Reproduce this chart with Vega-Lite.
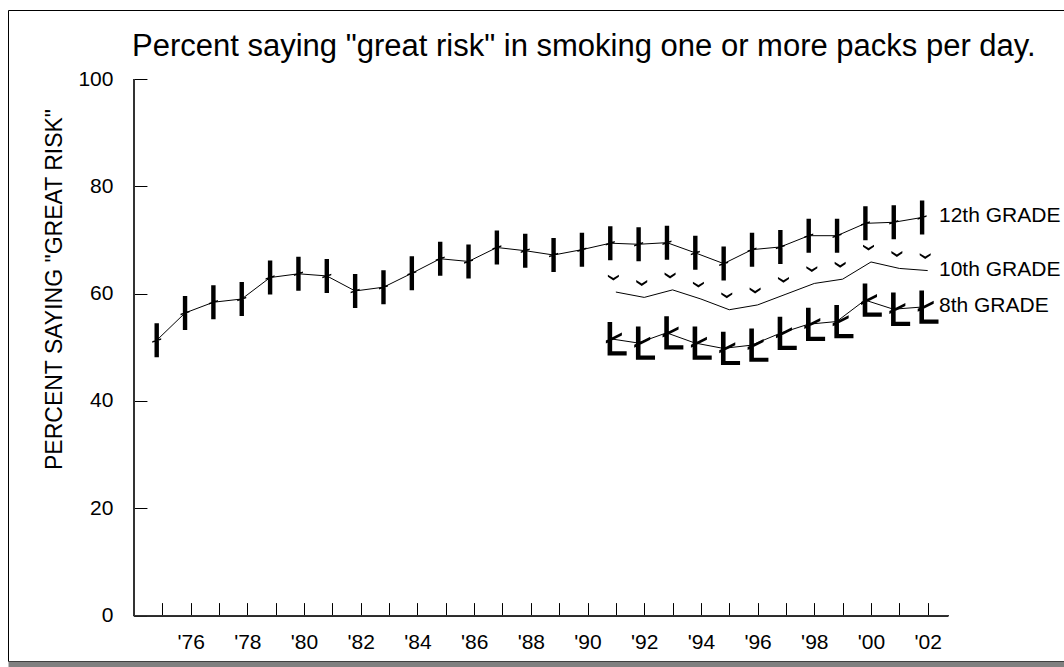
{
  "$schema": "https://vega.github.io/schema/vega-lite/v6.json",
  "width": 1056,
  "height": 651,
  "autosize": {"type": "none"},
  "padding": {"left": 8, "top": 10, "right": 0, "bottom": 6},
  "background": "white",
  "config": {
    "view": {"stroke": "black", "strokeWidth": 1, "fill": "white"},
    "font": "Liberation Sans",
    "axisY": {
      "orient": "left", "offset": -125.95,
      "tickSize": -13, "tickColor": "black", "tickWidth": 1,
      "domain": false, "grid": false,
      "labelFont": "Liberation Sans", "labelFontSize": 21, "labelColor": "black",
      "labelPadding": 34, "labelFlush": false, "labelOverlap": false,
      "titleFont": "Liberation Sans", "titleFontSize": 23, "titleFontWeight": "normal",
      "titleColor": "black", "titleAngle": -90, "titleAlign": "center",
      "titleBaseline": "alphabetic", "titleX": -72, "titleY": 279
    }
  },
  "title": {
    "text": "Percent saying \"great risk\" in smoking one or more packs per day.",
    "anchor": "start",
    "frame": "group",
    "font": "Liberation Sans",
    "fontSize": 31,
    "fontWeight": "normal",
    "color": "black",
    "baseline": "alphabetic",
    "offset": -77,
    "dx": 124
  },
  "data": {
    "values": [
      {"year": 1975, "grade": "12th GRADE", "pct": 51.3},
      {"year": 1976, "grade": "12th GRADE", "pct": 56.4},
      {"year": 1977, "grade": "12th GRADE", "pct": 58.4},
      {"year": 1978, "grade": "12th GRADE", "pct": 59.0},
      {"year": 1979, "grade": "12th GRADE", "pct": 63.0},
      {"year": 1980, "grade": "12th GRADE", "pct": 63.7},
      {"year": 1981, "grade": "12th GRADE", "pct": 63.3},
      {"year": 1982, "grade": "12th GRADE", "pct": 60.5},
      {"year": 1983, "grade": "12th GRADE", "pct": 61.2},
      {"year": 1984, "grade": "12th GRADE", "pct": 63.8},
      {"year": 1985, "grade": "12th GRADE", "pct": 66.5},
      {"year": 1986, "grade": "12th GRADE", "pct": 66.0},
      {"year": 1987, "grade": "12th GRADE", "pct": 68.6},
      {"year": 1988, "grade": "12th GRADE", "pct": 68.0},
      {"year": 1989, "grade": "12th GRADE", "pct": 67.2},
      {"year": 1990, "grade": "12th GRADE", "pct": 68.2},
      {"year": 1991, "grade": "12th GRADE", "pct": 69.4},
      {"year": 1992, "grade": "12th GRADE", "pct": 69.2},
      {"year": 1993, "grade": "12th GRADE", "pct": 69.5},
      {"year": 1994, "grade": "12th GRADE", "pct": 67.6},
      {"year": 1995, "grade": "12th GRADE", "pct": 65.6},
      {"year": 1996, "grade": "12th GRADE", "pct": 68.2},
      {"year": 1997, "grade": "12th GRADE", "pct": 68.7},
      {"year": 1998, "grade": "12th GRADE", "pct": 70.8},
      {"year": 1999, "grade": "12th GRADE", "pct": 70.8},
      {"year": 2000, "grade": "12th GRADE", "pct": 73.1},
      {"year": 2001, "grade": "12th GRADE", "pct": 73.3},
      {"year": 2002, "grade": "12th GRADE", "pct": 74.2},
      {"year": 1991, "grade": "10th GRADE", "pct": 60.3},
      {"year": 1992, "grade": "10th GRADE", "pct": 59.3},
      {"year": 1993, "grade": "10th GRADE", "pct": 60.7},
      {"year": 1994, "grade": "10th GRADE", "pct": 59.0},
      {"year": 1995, "grade": "10th GRADE", "pct": 57.0},
      {"year": 1996, "grade": "10th GRADE", "pct": 57.9},
      {"year": 1997, "grade": "10th GRADE", "pct": 59.9},
      {"year": 1998, "grade": "10th GRADE", "pct": 61.9},
      {"year": 1999, "grade": "10th GRADE", "pct": 62.7},
      {"year": 2000, "grade": "10th GRADE", "pct": 65.9},
      {"year": 2001, "grade": "10th GRADE", "pct": 64.7},
      {"year": 2002, "grade": "10th GRADE", "pct": 64.3},
      {"year": 1991, "grade": "8th GRADE", "pct": 51.6},
      {"year": 1992, "grade": "8th GRADE", "pct": 50.8},
      {"year": 1993, "grade": "8th GRADE", "pct": 52.7},
      {"year": 1994, "grade": "8th GRADE", "pct": 50.8},
      {"year": 1995, "grade": "8th GRADE", "pct": 49.8},
      {"year": 1996, "grade": "8th GRADE", "pct": 50.4},
      {"year": 1997, "grade": "8th GRADE", "pct": 52.6},
      {"year": 1998, "grade": "8th GRADE", "pct": 54.3},
      {"year": 1999, "grade": "8th GRADE", "pct": 54.8},
      {"year": 2000, "grade": "8th GRADE", "pct": 58.8},
      {"year": 2001, "grade": "8th GRADE", "pct": 57.1},
      {"year": 2002, "grade": "8th GRADE", "pct": 57.5}
    ]
  },
  "layer": [
    {
      "transform": [{"filter": "datum.grade == '12th GRADE'"}],
      "mark": {"type": "line", "color": "black", "strokeWidth": 1, "xOffset": -5.6},
      "encoding": {
        "x": {
          "field": "year", "type": "quantitative",
          "scale": {"domain": [1969.557, 2006.808], "nice": false, "zero": false},
          "axis": {
            "orient": "bottom", "offset": -45.4,
            "values": [1975,1976,1977,1978,1979,1980,1981,1982,1983,1984,1985,1986,1987,1988,1989,1990,1991,1992,1993,1994,1995,1996,1997,1998,1999,2000,2001,2002],
            "tickSize": -13, "tickColor": "black", "tickWidth": 1,
            "domain": false, "grid": false,
            "labelExpr": "datum.value % 2 == 0 ? \"'\" + substring(toString(datum.value), 2, 4) : ''",
            "labelFont": "Liberation Sans", "labelFontSize": 21, "labelColor": "black",
            "labelPadding": 29, "labelFlush": false, "labelOverlap": false,
            "title": null
          }
        },
        "y": {
          "field": "pct", "type": "quantitative",
          "scale": {"domain": [-8.461, 112.86], "nice": false, "zero": false},
          "axis": {"title": "PERCENT SAYING \"GREAT RISK\"", "values": [0, 20, 40, 60, 80, 100]}
        }
      }
    },
    {
      "transform": [{"filter": "datum.grade == '10th GRADE'"}],
      "mark": {"type": "line", "color": "black", "strokeWidth": 1},
      "encoding": {
        "x": {
          "field": "year", "type": "quantitative",
          "scale": {"domain": [1969.557, 2006.808], "nice": false, "zero": false},
          "axis": {
            "orient": "bottom", "offset": 3,
            "domain": true, "domainColor": "#808080", "domainWidth": 6,
            "ticks": false, "labels": false, "grid": false, "title": null
          }
        },
        "y": {"field": "pct", "type": "quantitative", "scale": {"domain": [-8.461, 112.86], "nice": false, "zero": false}, "axis": {"title": "PERCENT SAYING \"GREAT RISK\"", "values": [0, 20, 40, 60, 80, 100]}}
      }
    },
    {
      "transform": [{"filter": "datum.grade == '8th GRADE'"}],
      "mark": {"type": "line", "color": "black", "strokeWidth": 1, "xOffset": -6},
      "encoding": {
        "x": {"field": "year", "type": "quantitative", "scale": {"domain": [1969.557, 2006.808], "nice": false, "zero": false}, "axis": null},
        "y": {"field": "pct", "type": "quantitative", "scale": {"domain": [-8.461, 112.86], "nice": false, "zero": false}, "axis": {"title": "PERCENT SAYING \"GREAT RISK\"", "values": [0, 20, 40, 60, 80, 100]}}
      }
    },
    {
      "transform": [{"filter": "datum.grade == '12th GRADE'"}],
      "mark": {
        "type": "point", "filled": true, "color": "black", "opacity": 1, "strokeWidth": 0,
        "size": 4, "xOffset": -5.6,
        "shape": "M-2.2,-17H2.2V17H-2.2Z M-4.5,0.8L4.5,-2.2L4.5,-0.7L-4.5,2.3Z"
      },
      "encoding": {
        "x": {"field": "year", "type": "quantitative", "scale": {"domain": [1969.557, 2006.808], "nice": false, "zero": false}, "axis": null},
        "y": {"field": "pct", "type": "quantitative", "scale": {"domain": [-8.461, 112.86], "nice": false, "zero": false}, "axis": {"title": "PERCENT SAYING \"GREAT RISK\"", "values": [0, 20, 40, 60, 80, 100]}}
      }
    },
    {
      "transform": [{"filter": "datum.grade == '10th GRADE'"}],
      "mark": {
        "type": "point", "filled": true, "color": "black", "opacity": 1, "strokeWidth": 0,
        "size": 4,
        "shape": "M-8,-17.3L-2.5,-14L3,-17.3L3,-15.2L-2.5,-11.5L-8,-15.2Z"
      },
      "encoding": {
        "x": {"field": "year", "type": "quantitative", "scale": {"domain": [1969.557, 2006.808], "nice": false, "zero": false}, "axis": null},
        "y": {"field": "pct", "type": "quantitative", "scale": {"domain": [-8.461, 112.86], "nice": false, "zero": false}, "axis": {"title": "PERCENT SAYING \"GREAT RISK\"", "values": [0, 20, 40, 60, 80, 100]}}
      }
    },
    {
      "transform": [{"filter": "datum.grade == '8th GRADE'"}],
      "mark": {
        "type": "point", "filled": true, "color": "black", "opacity": 1, "strokeWidth": 0,
        "size": 4, "xOffset": -6,
        "shape": "M-2.3,-16.6H2.3V12.5H16.8V16.7H-2.3Z M-4,1.8L12,-6.2L12,-3.2L-4,4.8Z"
      },
      "encoding": {
        "x": {"field": "year", "type": "quantitative", "scale": {"domain": [1969.557, 2006.808], "nice": false, "zero": false}, "axis": null},
        "y": {"field": "pct", "type": "quantitative", "scale": {"domain": [-8.461, 112.86], "nice": false, "zero": false}, "axis": {"title": "PERCENT SAYING \"GREAT RISK\"", "values": [0, 20, 40, 60, 80, 100]}}
      }
    },
    {
      "transform": [{"filter": "datum.year == 2002"}],
      "mark": {"type": "text", "align": "left", "baseline": "middle", "dx": 11.3, "dy": -1, "font": "Liberation Sans", "fontSize": 21, "color": "black"},
      "encoding": {
        "x": {"field": "year", "type": "quantitative", "scale": {"domain": [1969.557, 2006.808], "nice": false, "zero": false}, "axis": null},
        "y": {"field": "pct", "type": "quantitative", "scale": {"domain": [-8.461, 112.86], "nice": false, "zero": false}, "axis": {"title": "PERCENT SAYING \"GREAT RISK\"", "values": [0, 20, 40, 60, 80, 100]}},
        "text": {"field": "grade", "type": "nominal"}
      }
    },
    {
      "mark": {"type": "rule", "color": "#333333", "strokeWidth": 1},
      "encoding": {
        "x": {"datum": 1974, "type": "quantitative", "scale": {"domain": [1969.557, 2006.808], "nice": false, "zero": false}, "axis": null},
        "y": {"datum": 0, "type": "quantitative", "scale": {"domain": [-8.461, 112.86], "nice": false, "zero": false}, "axis": {"title": "PERCENT SAYING \"GREAT RISK\"", "values": [0, 20, 40, 60, 80, 100]}},
        "y2": {"datum": 100}
      }
    },
    {
      "mark": {"type": "rule", "color": "#333333", "strokeWidth": 1},
      "encoding": {
        "x": {"datum": 1974, "type": "quantitative", "scale": {"domain": [1969.557, 2006.808], "nice": false, "zero": false}, "axis": null},
        "x2": {"datum": 2002.72},
        "y": {"datum": 0, "type": "quantitative", "scale": {"domain": [-8.461, 112.86], "nice": false, "zero": false}, "axis": {"title": "PERCENT SAYING \"GREAT RISK\"", "values": [0, 20, 40, 60, 80, 100]}}
      }
    }
  ],
  "resolve": {"axis": {"x": "independent"}}
}
